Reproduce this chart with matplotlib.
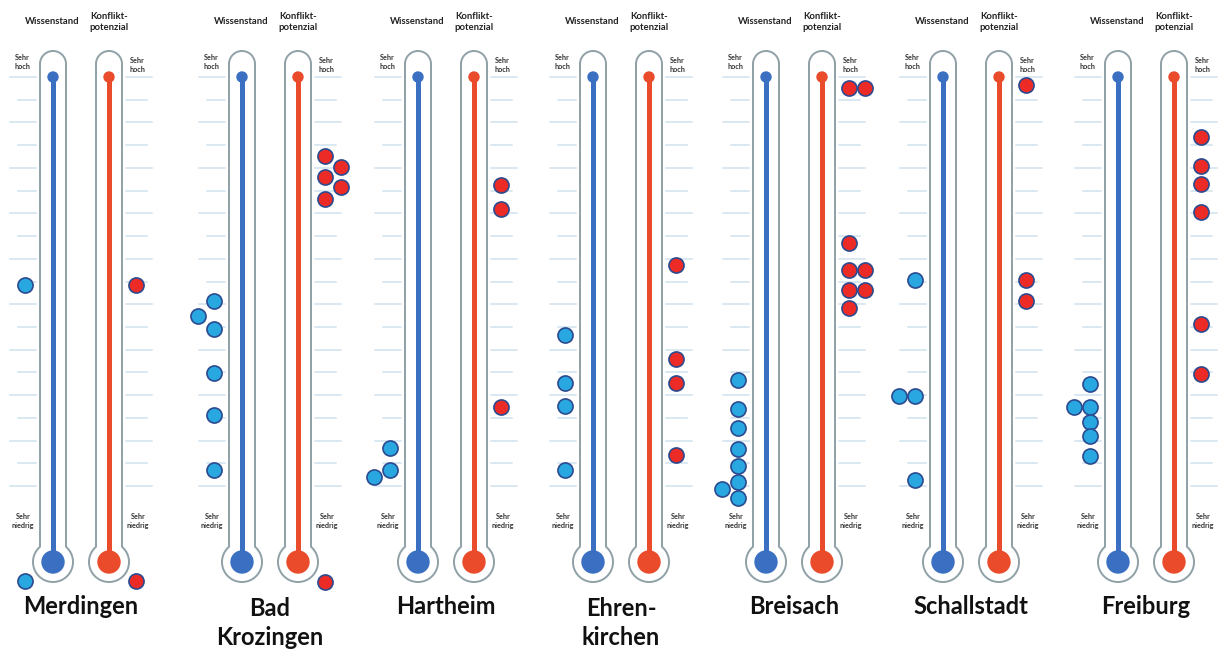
import numpy as np
import matplotlib.pyplot as plt
from matplotlib.patches import Circle

# towns and thermometer positions
towns = ["Merdingen", "Bad\nKrozingen", "Hartheim", "Ehren-\nkirchen", "Breisach", "Schallstadt", "Freiburg"]
blue_x = [53, 242, 418, 593, 766, 943, 1118]

# answers on the scale (0 = lowest tick "Sehr niedrig", 18 = "Sehr hoch", below 0 = no answer)
wissen_levels = [
    [8.85, -4.18],
    [8.14, 7.48, 6.91, 4.97, 3.13, 0.70],
    [1.67, 0.70, 0.40],
    [6.65, 4.53, 3.52, 0.70],
    [4.67, 3.39, 2.55, 1.63, 0.88, 0.18, -0.13, -0.53],
    [9.07, 3.96, 3.96, 0.26],
    [4.49, 3.48, 3.48, 2.82, 2.20, 1.32],
]
wissen_cols = [
    [0, 0],
    [0, 1, 0, 0, 0, 0],
    [0, 0, 1],
    [0, 0, 0, 0],
    [0, 0, 0, 0, 0, 0, 1, 0],
    [0, 1, 0, 0],
    [0, 1, 0, 0, 0, 0],
]
konflikt_levels = [
    [8.85, -4.18],
    [14.52, 14.04, 13.60, 13.16, 12.63, -4.23],
    [13.25, 12.19, 3.48],
    [9.73, 5.59, 4.53, 1.36],
    [17.52, 17.52, 10.70, 9.51, 9.51, 8.63, 8.63, 7.83],
    [17.65, 9.07, 8.14],
    [15.36, 14.08, 13.29, 12.06, 7.13, 4.93],
]
konflikt_cols = [
    [0, 0],
    [0, 1, 0, 1, 0, 0],
    [0, 0, 0],
    [0, 0, 0, 0],
    [0, 1, 0, 0, 1, 0, 1, 0],
    [0, 0, 0],
    [0, 0, 0, 0, 0, 0],
]
n_ticks = 19

W, H = 1219, 650
TICK0_PX = 486.0   # pixel row of level 0
TICK_PX = 22.72    # pixels per level

BLUE_STEM = "#3a6fc2"
RED_STEM = "#e94b2b"
BLUE_DOT = "#29a7e1"
RED_DOT = "#ec2b27"
DOT_EDGE = "#2b4a8f"
OUTLINE = "#8fa1a6"
TICK_C = "#d0e1ef"

fig = plt.figure(figsize=(W / 100, H / 100), dpi=100)
ax = fig.add_axes([0, 0, 1, 1])
ax.set_xlim(0, W)
ax.set_ylim(H, 0)
ax.axis("off")

# data axes: x in pixels, y in scale levels
dax = fig.add_axes([0, 0, 1, 1], sharex=ax)
dax.set_ylim((TICK0_PX - H) / TICK_PX, TICK0_PX / TICK_PX)
dax.axis("off")
dax.patch.set_alpha(0)

font = "Lato"


def thermometer(cx, color):
    r, top_c = 13, 64
    R, bc = 20, 562
    a0 = np.arcsin(r / R)
    t = np.linspace(np.pi, 0, 40)
    xs = list(cx + r * np.cos(t))
    ys = list(top_c - r * np.sin(t))
    a = np.linspace(np.pi - a0, -(np.pi - a0), 80)
    xs += list(cx + R * np.sin(a))
    ys += list(bc + R * np.cos(a))
    xs.append(xs[0])
    ys.append(ys[0])
    ax.plot(xs, ys, color=OUTLINE, lw=1.4, solid_capstyle="round", zorder=2)
    ax.plot([cx, cx], [77, 560], color=color, lw=3.6, zorder=3)
    ax.add_patch(Circle((cx, 77), 5, color=color, zorder=3))
    ax.add_patch(Circle((cx, bc), 11, color=color, zorder=3))


levels = np.arange(n_ticks)
for i, town in enumerate(towns):
    bx = blue_x[i]
    rx = bx + 56

    # scale ticks
    for lv in levels:
        long = lv % 2 == 0
        dax.plot([bx - (43 if long else 35), bx - 17], [lv, lv], color=TICK_C, lw=1.1, zorder=1)
        dax.plot([rx + 17, rx + (43 if long else 38)], [lv, lv], color=TICK_C, lw=1.1, zorder=1)

    thermometer(bx, BLUE_STEM)
    thermometer(rx, RED_STEM)

    ax.text(bx - 1, 21, "Wissenstand", ha="center", va="center", fontsize=6.8,
            fontweight="bold", family=font, color="#222222")
    ax.text(rx, 22, "Konflikt-\npotenzial", ha="center", va="center", fontsize=6.8,
            fontweight="bold", family=font, color="#222222", linespacing=1.3)
    ax.text(bx - 31, 62, "Sehr\nhoch", ha="center", va="center", fontsize=5.2,
            fontweight="bold", family=font, color="#333333", linespacing=1.4)
    ax.text(rx + 28, 65, "Sehr\nhoch", ha="center", va="center", fontsize=5.2,
            fontweight="bold", family=font, color="#333333", linespacing=1.4)
    ax.text(bx - 30, 521, "Sehr\nniedrig", ha="center", va="center", fontsize=5.2,
            fontweight="bold", family=font, color="#333333", linespacing=1.4)
    ax.text(rx + 29, 521, "Sehr\nniedrig", ha="center", va="center", fontsize=5.2,
            fontweight="bold", family=font, color="#333333", linespacing=1.4)

    ax.text((bx + rx) / 2, 607 if "\n" not in town else 623, town, ha="center", va="center",
            fontsize=17, fontweight="bold", family=font, color="#111111", linespacing=1.3)

    # answers
    wx = [bx - 28 - 16 * c for c in wissen_cols[i]]
    dax.scatter(wx, wissen_levels[i], s=118, color=BLUE_DOT, edgecolor=DOT_EDGE,
                linewidth=1.2, zorder=5)
    kx = [rx + 27 + 16 * c for c in konflikt_cols[i]]
    dax.scatter(kx, konflikt_levels[i], s=118, color=RED_DOT, edgecolor=DOT_EDGE,
                linewidth=1.2, zorder=5)

fig.savefig("out.png", dpi=100)
